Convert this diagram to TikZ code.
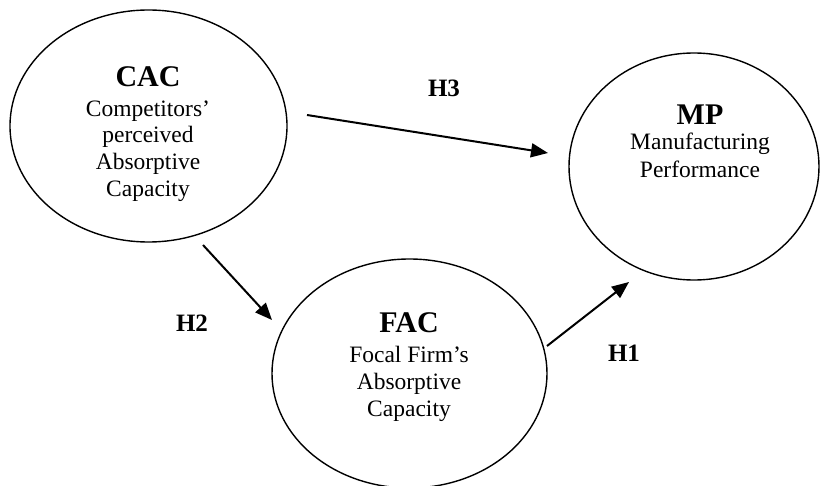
\documentclass[tikz,border=0pt]{standalone}
\usepackage{fontspec}
\setmainfont{Liberation Serif}
\usetikzlibrary{shapes.geometric,arrows.meta}
\begin{document}
\begin{tikzpicture}[x=1pt,y=-1pt,
  construct/.style={draw,ellipse,line width=1.4pt,inner sep=0pt},
  titletxt/.style={anchor=base,inner sep=0pt,font=\fontsize{30}{34}\selectfont\bfseries},
  bodytxt/.style={anchor=base,inner sep=0pt,font=\fontsize{23.5}{27}\selectfont},
  hyp/.style={anchor=base,inner sep=0pt,font=\fontsize{25}{28}\selectfont\bfseries},
  arrowline/.style={line width=2pt,-{Triangle[length=17pt,width=14pt]}}]
\useasboundingbox (0,0) rectangle (820,486);
% ellipses
\node[construct,minimum width=277pt,minimum height=232pt] (cac) at (148.5,126) {};
\node[construct,minimum width=250pt,minimum height=227pt] (mp) at (694,166.5) {};
\node[construct,minimum width=275pt,minimum height=229pt] (fac) at (409.5,373.5) {};
% CAC text
\node[titletxt] (cact) at (148,87) {CAC};
\node[bodytxt] (cac1) at (148,117) {Competitors’};
\node[bodytxt] (cac2) at (148,143) {perceived};
\node[bodytxt] (cac3) at (148,170) {Absorptive};
\node[bodytxt] (cac4) at (148,197) {Capacity};
% MP text
\node[titletxt] (mpt) at (700,125) {MP};
\node[bodytxt] (mp1) at (700,150) {Manufacturing};
\node[bodytxt] (mp2) at (700,178) {Performance};
% FAC text
\node[titletxt] (fact) at (409,333) {FAC};
\node[bodytxt] (fac1) at (409,363) {Focal Firm’s};
\node[bodytxt] (fac2) at (409,390) {Absorptive};
\node[bodytxt] (fac3) at (409,417) {Capacity};
% hypothesis labels
\node[hyp] (h3) at (444,97) {H3};
\node[hyp] (h2) at (192,332) {H2};
\node[hyp] (h1) at (624,362) {H1};
% arrow end points
\coordinate (h3s) at (307,115);
\coordinate (h3e) at (548,153);
\coordinate (h2s) at (203,245);
\coordinate (h2e) at (272,320);
\coordinate (h1s) at (547,346);
\coordinate (h1e) at (629,282);
\draw[arrowline] (h3s) -- (h3e);
\draw[arrowline] (h2s) -- (h2e);
\draw[arrowline] (h1s) -- (h1e);
\end{tikzpicture}
\end{document}
